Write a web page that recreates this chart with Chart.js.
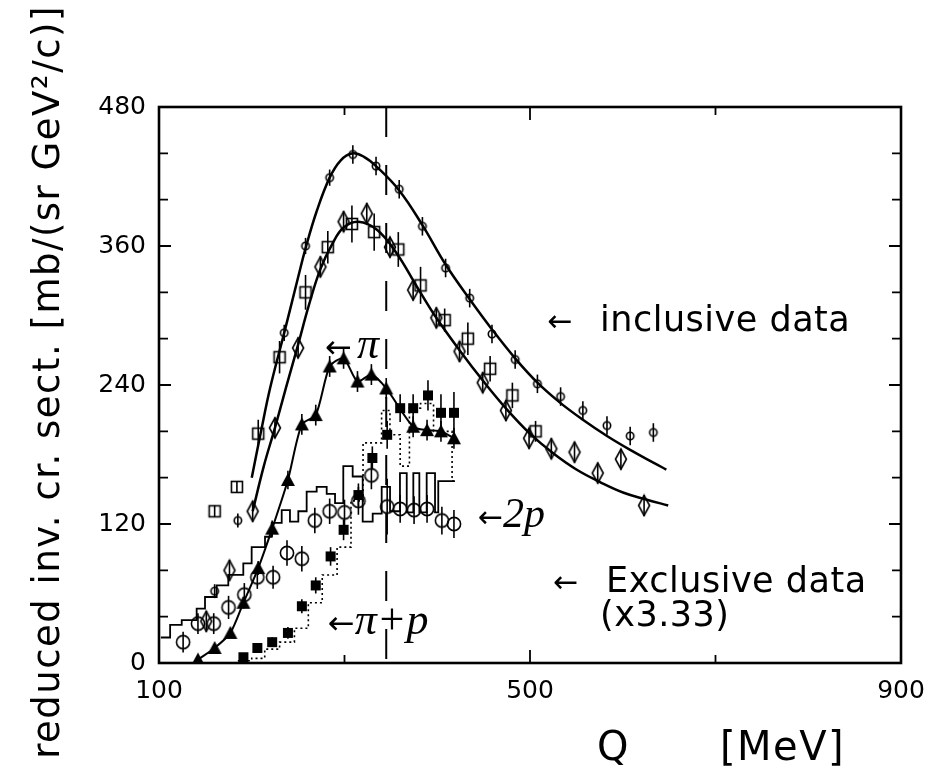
<!DOCTYPE html>
<html lang="en">
<head>
<meta charset="UTF-8">
<title>Reduced invariant cross section vs Q</title>
<script src="https://cdn.jsdelivr.net/npm/chart.js"></script>
<style>
  html, body { margin: 0; padding: 0; background: #fff; }
  canvas { display: block; }
</style>
</head>
<body>
<canvas id="chart" width="946" height="766"></canvas>
<script>
// Q in MeV, cross section in mb/(sr GeV^2/c)

// inclusive data, small open circles
const inclCircleQ = [160, 185, 235, 258, 284, 309, 334, 359, 384, 409, 435, 459, 484, 508, 533, 557, 583, 608, 633];
const inclCircleV = [62, 123, 285, 360, 419, 439, 429, 409, 377, 341, 315, 284, 262, 241, 230, 218, 205, 196, 199];
const inclCircleErr = [6, 6, 7, 7, 7, 8, 8, 8, 8, 8, 8, 8, 8, 8, 8, 8, 8, 8, 8];

// inclusive data, open squares
const inclSquareQ = [160, 184, 207, 230, 258, 282, 308, 332, 358, 382, 408, 433, 457, 481, 506];
const inclSquareV = [131, 152, 198, 264, 320, 359, 379, 372, 357, 326, 296, 280, 254, 231, 200];
const inclSquareErr = [5, 5, 12, 14, 15, 14, 16, 16, 15, 16, 10, 14, 11, 11, 9];

// inclusive data, open diamonds
const diamondQ = [151, 176, 201, 225, 250, 274, 299, 324, 349, 374, 399, 424, 449, 474, 499, 523, 548, 573, 598, 623];
const diamondV = [36, 80, 131, 203, 272, 342, 381, 388, 359, 322, 298, 269, 242, 218, 194, 185, 182, 164, 176, 136];
const diamondErr = [9, 9, 9, 9, 9, 9, 9, 9, 9, 9, 9, 9, 9, 9, 9, 9, 9, 9, 9, 9];

// fitted curves through the inclusive data
const upperCurveQ = [200, 210, 220, 235, 250, 258, 270, 284, 296, 309, 321, 334, 359, 384, 409, 435, 459, 484, 508, 532, 557, 583, 608, 633, 647];
const upperCurveV = [160, 200, 238, 285, 333, 358, 390, 419, 434, 440, 437, 429, 408, 378, 344, 314, 288, 263, 242, 225, 210, 196, 184, 173, 167];
const lowerCurveQ = [201, 213, 225, 237, 249, 262, 274, 287, 299, 315, 335, 356, 378, 399, 425, 450, 475, 500, 525, 550, 576, 601, 626, 649];
const lowerCurveV = [131, 170, 203, 238, 272, 310, 340, 362, 376, 381, 374, 354, 325, 298, 269, 243, 219, 198, 181, 167, 156, 147, 141, 136];

// exclusive data (x3.33): pi, filled triangles
const piQ = [142, 160, 177, 191, 207, 222, 239, 254, 269, 284, 299, 314, 329, 345, 374, 389, 404, 418];
const piV = [3, 13, 26, 52, 82, 116, 158, 206, 214, 256, 263, 243, 249, 237, 204, 201, 200, 194];
const piErr = [3, 3, 4, 5, 6, 7, 8, 9, 9, 9, 9, 9, 9, 9, 9, 9, 9, 9];

// exclusive data: pi+p, filled squares, and its dotted histogram
const pipQ = [191, 206, 222, 239, 254, 269, 285, 299, 315, 330, 346, 360, 374, 390, 404, 418];
const pipV = [5, 13, 18, 26, 49, 67, 92, 115, 145, 177, 197, 220, 220, 231, 216, 216];
const pipErr = [2, 3, 4, 5, 6, 7, 8, 9, 10, 10, 12, 12, 12, 13, 16, 18];
const pipHistQ = [185, 200, 214, 230, 246, 261, 276, 292, 307, 320, 340, 349, 360, 370, 382, 396, 416, 421];
const pipHistV = [2, 4, 12, 18, 30, 52, 76, 100, 140, 190, 218, 197, 170, 220, 224, 200, 157, 157];

// exclusive data: 2p, large open circles, and its solid histogram
const twoPQ = [126, 142, 159, 175, 192, 206, 223, 238, 254, 268, 284, 300, 315, 329, 346, 360, 375, 389, 405, 418];
const twoPV = [18, 34, 34, 48, 59, 74, 74, 95, 90, 123, 131, 130, 140, 162, 135, 133, 132, 133, 123, 120];
const twoPErr = [9, 9, 9, 10, 10, 10, 10, 11, 11, 11, 11, 11, 12, 12, 24, 12, 12, 12, 12, 12];
const twoPHistQ = [102, 112, 124.5, 140.6, 149.6, 162.2, 174.7, 190.9, 199.9, 214.3, 221.5, 232.3, 241.2, 250.2, 259.2, 270, 280.8, 289.8, 298.7, 308.8, 319.6, 330.4, 340.1, 349.1, 359.8, 367.1, 374.2, 380.7, 388.6, 397.6, 401.1, 419.1];
const twoPHistV = [22, 33, 37, 47, 57, 67, 76, 86, 100, 109, 121, 132, 122, 131, 148, 152, 146, 138, 170, 161, 122, 129, 152, 131, 164, 130, 164, 130, 164, 130, 157, 157];

// axes
const xLabelTicks = [100, 500, 900];
const yLabelStep = 120;
const cutQ = 345; // dashed vertical line

const toXY = (qs, vs) => qs.map((q, i) => ({ x: q, y: vs[i] }));

function marker(w, h, draw) {
  const c = document.createElement('canvas');
  c.width = w; c.height = h;
  const g = c.getContext('2d');
  g.strokeStyle = '#000'; g.fillStyle = '#000'; g.lineWidth = 1.6;
  draw(g);
  return c;
}
const smallCircle = marker(12, 12, g => { g.beginPath(); g.arc(6, 6, 3.7, 0, 2 * Math.PI); g.stroke(); });
const bigCircle = marker(18, 18, g => { g.beginPath(); g.arc(9, 9, 6.6, 0, 2 * Math.PI); g.stroke(); });
const openSquare = marker(16, 16, g => g.strokeRect(2.5, 2.5, 11, 11));
const diamond = marker(16, 24, g => {
  g.beginPath(); g.moveTo(8, 2); g.lineTo(13.5, 12); g.lineTo(8, 22); g.lineTo(2.5, 12); g.closePath(); g.stroke();
});
const triangle = marker(16, 16, g => {
  g.beginPath(); g.moveTo(8, 1); g.lineTo(15, 14); g.lineTo(1, 14); g.closePath(); g.fill();
});
const filledSquare = marker(12, 12, g => g.fillRect(1, 1, 10, 10));

function points(qs, vs, errs, style) {
  return { data: toXY(qs, vs), errors: errs, pointStyle: style, pointRadius: 5, showLine: false, order: 0 };
}
function curve(qs, vs, width, extra) {
  return Object.assign({
    data: toXY(qs, vs), showLine: true, pointRadius: 0, borderColor: '#000',
    borderWidth: width, tension: 0.4, fill: false, order: 2
  }, extra || {});
}

// vertical error bars from the errors arrays
const errorBars = {
  id: 'errorBars',
  afterDatasetsDraw(chart) {
    const ctx = chart.ctx, ys = chart.scales.y;
    ctx.save();
    ctx.strokeStyle = '#000';
    ctx.lineWidth = 1.6;
    chart.data.datasets.forEach((ds, di) => {
      if (!ds.errors) return;
      chart.getDatasetMeta(di).data.forEach((pt, i) => {
        const v = ds.data[i].y, e = ds.errors[i];
        ctx.beginPath();
        ctx.moveTo(pt.x, ys.getPixelForValue(v + e));
        ctx.lineTo(pt.x, ys.getPixelForValue(v - e));
        ctx.stroke();
      });
    });
    ctx.restore();
  }
};

const annotations = [
  { text: '\u2190', q: 279, v: 263, font: '32px "DejaVu Sans"' },
  { text: '\u03C0', q: 313.5, v: 263, font: 'italic 44px "Liberation Serif"' },
  { text: '\u2190', q: 519, v: 287, font: '30px "DejaVu Sans"' },
  { text: 'inclusive data', q: 575.5, v: 287, font: '35px "DejaVu Sans"', spacing: '0.5px' },
  { text: '\u2190', q: 444, v: 117, font: '30px "DejaVu Sans"' },
  { text: '2p', q: 471, v: 117, font: 'italic 42px "Liberation Serif"' },
  { text: '\u2190', q: 525, v: 61, font: '30px "DejaVu Sans"' },
  { text: 'Exclusive data', q: 582, v: 61, font: '35px "DejaVu Sans"', spacing: '0.5px' },
  { text: '(x3.33)', q: 575.5, v: 32, font: '35px "DejaVu Sans"', spacing: '0.5px' },
  { text: '\u2190', q: 282, v: 25, font: '32px "DejaVu Sans"' },
  { text: '\u03C0+p', q: 311, v: 25, font: 'italic 44px "Liberation Serif"' }
];

const frame = {
  id: 'frame',
  afterDraw(chart) {
    const ctx = chart.ctx, a = chart.chartArea, xs = chart.scales.x, ys = chart.scales.y;
    ctx.save();
    ctx.strokeStyle = '#000';
    ctx.fillStyle = '#000';

    // dashed cut line
    ctx.lineWidth = 2;
    ctx.setLineDash([30, 28]);
    const cx = xs.getPixelForValue(cutQ);
    ctx.beginPath(); ctx.moveTo(cx, a.top); ctx.lineTo(cx, a.bottom); ctx.stroke();
    ctx.setLineDash([]);

    // box
    ctx.lineWidth = 2.6;
    ctx.strokeRect(a.left, a.top, a.right - a.left, a.bottom - a.top);

    // inward ticks
    ctx.lineWidth = 1.8;
    ctx.beginPath();
    for (let v = 40; v < 480; v += 40) {
      const y = ys.getPixelForValue(v), len = v % yLabelStep === 0 ? 12 : 9;
      ctx.moveTo(a.left, y); ctx.lineTo(a.left + len, y);
      ctx.moveTo(a.right, y); ctx.lineTo(a.right - len, y);
    }
    for (let q = 300; q < 900; q += 200) {
      const x = xs.getPixelForValue(q), len = q === 500 ? 13 : 8;
      ctx.moveTo(x, a.bottom); ctx.lineTo(x, a.bottom - len);
      ctx.moveTo(x, a.top); ctx.lineTo(x, a.top + len);
    }
    ctx.stroke();

    // labels inside the plot
    ctx.textBaseline = 'alphabetic';
    ctx.textAlign = 'left';
    annotations.forEach(t => {
      ctx.font = t.font;
      ctx.letterSpacing = t.spacing || '0px';
      ctx.fillText(t.text, xs.getPixelForValue(t.q), ys.getPixelForValue(t.v));
    });

    // axis titles
    ctx.letterSpacing = '1.5px';
    ctx.font = '37px "DejaVu Sans"';
    ctx.save();
    ctx.translate(a.left - 100, 382);
    ctx.rotate(-Math.PI / 2);
    ctx.textAlign = 'center';
    ctx.fillText('reduced inv. cr. sect. [mb/(sr GeV\u00B2/c)]', 0, 0);
    ctx.restore();

    ctx.font = '40px "DejaVu Sans"';
    ctx.letterSpacing = '1.5px';
    ctx.fillText('Q', 597, 760);
    ctx.fillText('[MeV]', 720, 760);
    ctx.restore();
  }
};

Chart.defaults.font.family = '"DejaVu Sans"';
Chart.defaults.color = '#000';

new Chart(document.getElementById('chart'), {
  type: 'scatter',
  data: {
    datasets: [
      points(inclCircleQ, inclCircleV, inclCircleErr, smallCircle),
      points(inclSquareQ, inclSquareV, inclSquareErr, openSquare),
      points(diamondQ, diamondV, diamondErr, diamond),
      points(pipQ, pipV, pipErr, filledSquare),
      points(twoPQ, twoPV, twoPErr, bigCircle),
      Object.assign(points(piQ, piV, piErr, triangle), {
        showLine: true, borderColor: '#000', borderWidth: 2, tension: 0.25
      }),
      curve(upperCurveQ, upperCurveV, 2.5),
      curve(lowerCurveQ, lowerCurveV, 2.5),
      curve(twoPHistQ, twoPHistV, 1.8, { stepped: 'before' }),
      curve(pipHistQ, pipHistV, 1.6, { stepped: 'before', borderDash: [2, 3] })
    ]
  },
  options: {
    responsive: false,
    animation: false,
    events: [],
    layout: { padding: { left: 0, top: 107, right: 45, bottom: 0 } },
    plugins: { legend: { display: false }, tooltip: { enabled: false } },
    scales: {
      x: {
        type: 'linear', min: 100, max: 900,
        afterFit: s => { s.height = 103; },
        grid: { display: false, drawTicks: false },
        border: { display: false },
        ticks: {
          stepSize: 200, autoSkip: false, maxRotation: 0, padding: 13,
          font: { size: 25 },
          callback: v => xLabelTicks.includes(v) ? String(v) : ''
        }
      },
      y: {
        min: 0, max: 480,
        afterFit: s => { s.width = 159; },
        grid: { display: false, drawTicks: false },
        border: { display: false },
        ticks: {
          stepSize: 40, autoSkip: false, padding: 13,
          font: { size: 25 },
          callback: v => v % yLabelStep === 0 ? String(v) : ''
        }
      }
    }
  },
  plugins: [errorBars, frame]
});
</script>
</body>
</html>
